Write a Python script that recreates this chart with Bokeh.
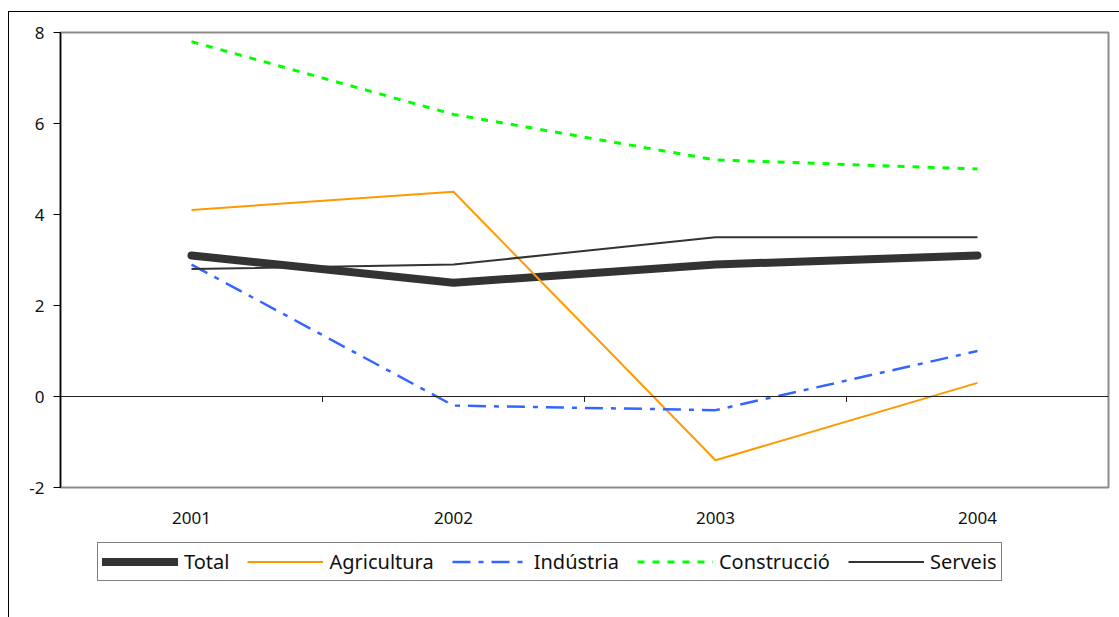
from bokeh.plotting import figure
from bokeh.layouts import column
from bokeh.models import (Range1d, FixedTicker, Legend, LegendItem, Span)
from bokeh.embed import file_html
from bokeh.resources import INLINE

years = ["2001", "2002", "2003", "2004"]
total = [3.1, 2.5, 2.9, 3.1]
agricultura = [4.1, 4.5, -1.4, 0.3]
industria = [2.9, -0.2, -0.3, 1.0]
construccio = [7.8, 6.2, 5.2, 5.0]
serveis = [2.8, 2.9, 3.5, 3.5]
y_ticks = [-2, 0, 2, 4, 6, 8]

xs = [i + 0.5 for i in range(len(years))]
FONT = "Noto Sans"

STYLES = [
    dict(line_color="#333333", line_width=8, line_cap="round", line_join="round"),
    dict(line_color="#FF9900", line_width=2),
    dict(line_color="#3366FF", line_width=2.5, line_dash="18 8 5 8"),
    dict(line_color="#00FF00", line_width=3, line_dash="7 8"),
    dict(line_color="#333333", line_width=2),
]
names = ["Total", "Agricultura", "Indústria", "Construcció", "Serveis"]
series = [total, agricultura, industria, construccio, serveis]

p = figure(width=1110, height=528, output_backend="svg", toolbar_location=None,
           x_range=Range1d(0, len(years)), y_range=Range1d(-2, 8),
           min_border_left=51, min_border_top=20, min_border_right=11, min_border_bottom=53)
p.background_fill_color = "white"
p.border_fill_color = "white"
p.outline_line_color = "#8c8c8c"
p.outline_line_width = 2
p.xgrid.visible = False
p.ygrid.visible = False

# zero line with category tick marks
p.add_layout(Span(location=0, dimension="width", line_color="#222222", line_width=1))
bx = list(range(1, len(years)))
p.segment(x0=bx, x1=bx, y0=[0] * len(bx), y1=[-0.12] * len(bx), line_color="#222222", line_width=1)

for vals, st in zip(series, STYLES):
    p.line(xs, vals, **st)

# axes
p.xaxis.ticker = FixedTicker(ticks=xs)
p.xaxis.major_label_overrides = {x: y for x, y in zip(xs, years)}
p.xaxis.axis_line_color = None
p.xaxis.major_tick_line_color = None
p.xaxis.minor_tick_line_color = None
p.xaxis.major_label_standoff = 18
p.xaxis.major_label_text_font = FONT
p.xaxis.major_label_text_font_size = "17px"
p.xaxis.major_label_text_color = "#111111"

p.yaxis.ticker = FixedTicker(ticks=y_ticks)
p.yaxis.major_label_overrides = {t: str(t) for t in y_ticks}
p.yaxis.axis_line_color = "black"
p.yaxis.axis_line_width = 1.5
p.yaxis.major_tick_out = 7
p.yaxis.major_tick_in = 0
p.yaxis.minor_tick_line_color = None
p.yaxis.major_label_standoff = 9
p.yaxis.major_label_text_font = FONT
p.yaxis.major_label_text_font_size = "17px"
p.yaxis.major_label_text_color = "#111111"

# legend strip below the chart (frame aligned with the chart's frame by the column)
p2 = figure(width=1110, height=77, output_backend="svg", toolbar_location=None,
            x_range=Range1d(0, 1), y_range=Range1d(0, 1),
            min_border_left=0, min_border_top=0, min_border_right=0, min_border_bottom=0,
            x_axis_location=None, y_axis_location=None)
p2.outline_line_color = None
p2.xgrid.visible = False
p2.ygrid.visible = False
p2.background_fill_color = "white"
p2.border_fill_color = "white"
items = []
for name, st in zip(names, STYLES):
    r = p2.line([5, 6], [5, 6], **st)  # off-view proxy, only its legend swatch is seen
    items.append(LegendItem(label=name, renderers=[r]))

legend = Legend(items=items, orientation="horizontal", location=(37, 36), margin=0, padding=4,
                glyph_width=76, glyph_height=29, label_height=29, label_standoff=6, spacing=18,
                label_text_font=FONT, label_text_font_size="20px", label_text_color="#111111",
                border_line_color="black", border_line_width=1, background_fill_color="white",
                background_fill_alpha=1)
p2.add_layout(legend, "center")

layout = column(p, p2, spacing=0)
layout.styles = {"border-left": "1px solid black", "border-top": "1px solid black",
                 "margin-left": "8px", "margin-top": "11px"}

open("out.html", "w").write(file_html(layout, INLINE))
